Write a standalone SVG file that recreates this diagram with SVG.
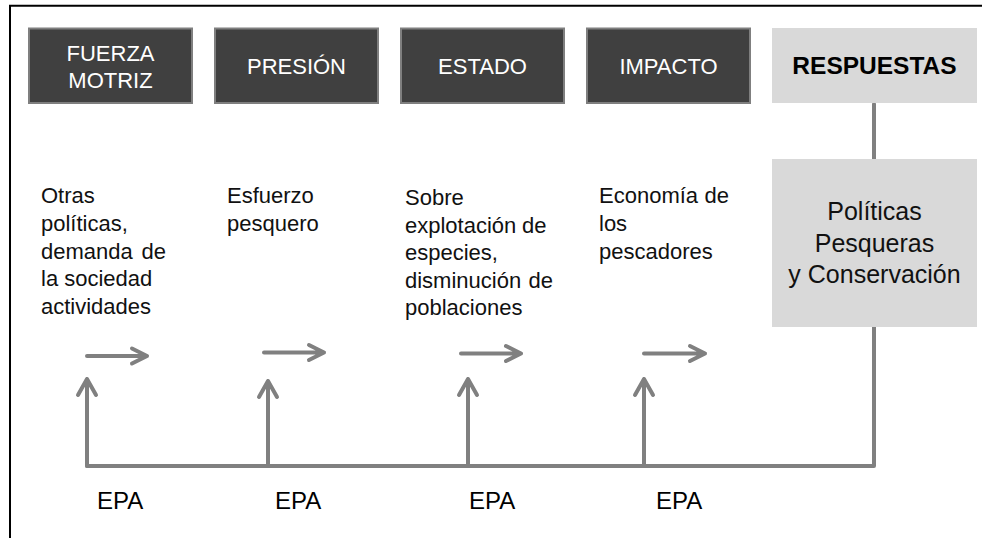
<svg xmlns="http://www.w3.org/2000/svg" width="982" height="538" viewBox="0 0 982 538">
  <style>
    .frame { stroke: #000; stroke-width: 2; fill: none; }
    .dark { fill: #404040; stroke: #7f7f7f; stroke-width: 2; }
    .light { fill: #d9d9d9; }
    .head { font-family: "Liberation Sans", Arial, sans-serif; font-size: 22px; fill: #fff; text-anchor: middle; }
    .resp { font-family: "Liberation Sans", Arial, sans-serif; font-size: 24.5px; font-weight: bold; fill: #000; text-anchor: middle; }
    .pol { font-family: "Liberation Sans", Arial, sans-serif; font-size: 25px; fill: #111; text-anchor: middle; }
    .body { font-family: "Liberation Sans", Arial, sans-serif; font-size: 22px; fill: #111; }
    .epa { font-family: "Liberation Sans", Arial, sans-serif; font-size: 24px; fill: #000; }
    .wire { stroke: #808080; stroke-width: 4; fill: none; stroke-linecap: round; stroke-linejoin: round; }
  </style>

  <!-- outer frame: top and left edges -->
  <path class="frame" d="M10 538 V5.7 H982"/>

  <!-- connectors -->
  <g id="connectors">
    <!-- feedback loop from responses back to each stage -->
    <path class="wire" d="M874 104 V159"/>
    <path class="wire" d="M874 327 V466 H87"/>
    <!-- upward arrows -->
    <path class="wire" d="M87 466 V379 M78 395 L87 379 L96 395"/>
    <path class="wire" d="M268 466 V381 M259 397 L268 381 L277 397"/>
    <path class="wire" d="M468 466 V379 M459 395 L468 379 L477 395"/>
    <path class="wire" d="M644 466 V379 M635 395 L644 379 L653 395"/>
    <!-- forward arrows -->
    <path class="wire" d="M87 356 H147 M132 348.5 L147 356 L132 363.5"/>
    <path class="wire" d="M264 352.5 H324 M309 345 L324 352.5 L309 360"/>
    <path class="wire" d="M461 353.5 H521 M506 346 L521 353.5 L506 361"/>
    <path class="wire" d="M644 353.5 H705 M690 346 L705 353.5 L690 361"/>
  </g>

  <g id="fuerza-motriz">
    <rect class="dark" x="29" y="28.5" width="163" height="74.5"/>
    <text class="head" x="110.5" y="61">FUERZA</text>
    <text class="head" x="110.5" y="88">MOTRIZ</text>
  </g>
  <g id="presion">
    <rect class="dark" x="215" y="28.5" width="163" height="74.5"/>
    <text class="head" x="296.5" y="74">PRESIÓN</text>
  </g>
  <g id="estado">
    <rect class="dark" x="401" y="28.5" width="163" height="74.5"/>
    <text class="head" x="482.5" y="74">ESTADO</text>
  </g>
  <g id="impacto">
    <rect class="dark" x="587" y="28.5" width="163" height="74.5"/>
    <text class="head" x="668.5" y="74">IMPACTO</text>
  </g>
  <g id="respuestas">
    <rect class="light" x="772" y="28" width="205" height="75"/>
    <text class="resp" x="874.5" y="74">RESPUESTAS</text>
  </g>
  <g id="politicas">
    <rect class="light" x="772" y="159" width="205" height="168"/>
    <text class="pol" x="874.5" y="220">Políticas</text>
    <text class="pol" x="874.5" y="252">Pesqueras</text>
    <text class="pol" x="874.5" y="283">y Conservación</text>
  </g>

  <!-- stage descriptions -->
  <g id="desc-fuerza">
    <text class="body" x="41" y="203">Otras</text>
    <text class="body" x="41" y="231">políticas,</text>
    <text class="body" x="41" y="258.5">demanda<tspan x="141.5">de</tspan></text>
    <text class="body" x="41" y="286">la sociedad</text>
    <text class="body" x="41" y="313.5">actividades</text>
  </g>
  <g id="desc-presion">
    <text class="body" x="227" y="203">Esfuerzo</text>
    <text class="body" x="227" y="231">pesquero</text>
  </g>
  <g id="desc-estado">
    <text class="body" x="405" y="205">Sobre</text>
    <text class="body" x="405" y="232.5">explotación<tspan x="522">de</tspan></text>
    <text class="body" x="405" y="260">especies,</text>
    <text class="body" x="405" y="287.5">disminución<tspan x="528.5">de</tspan></text>
    <text class="body" x="405" y="315">poblaciones</text>
  </g>
  <g id="desc-impacto">
    <text class="body" x="599" y="203">Economía<tspan x="704.5">de</tspan></text>
    <text class="body" x="599" y="231">los</text>
    <text class="body" x="599" y="258.5">pescadores</text>
  </g>

  <g id="epa-labels">
    <text class="epa" x="97" y="509">EPA</text>
    <text class="epa" x="275" y="509">EPA</text>
    <text class="epa" x="469" y="509">EPA</text>
    <text class="epa" x="656" y="509">EPA</text>
  </g>
</svg>
